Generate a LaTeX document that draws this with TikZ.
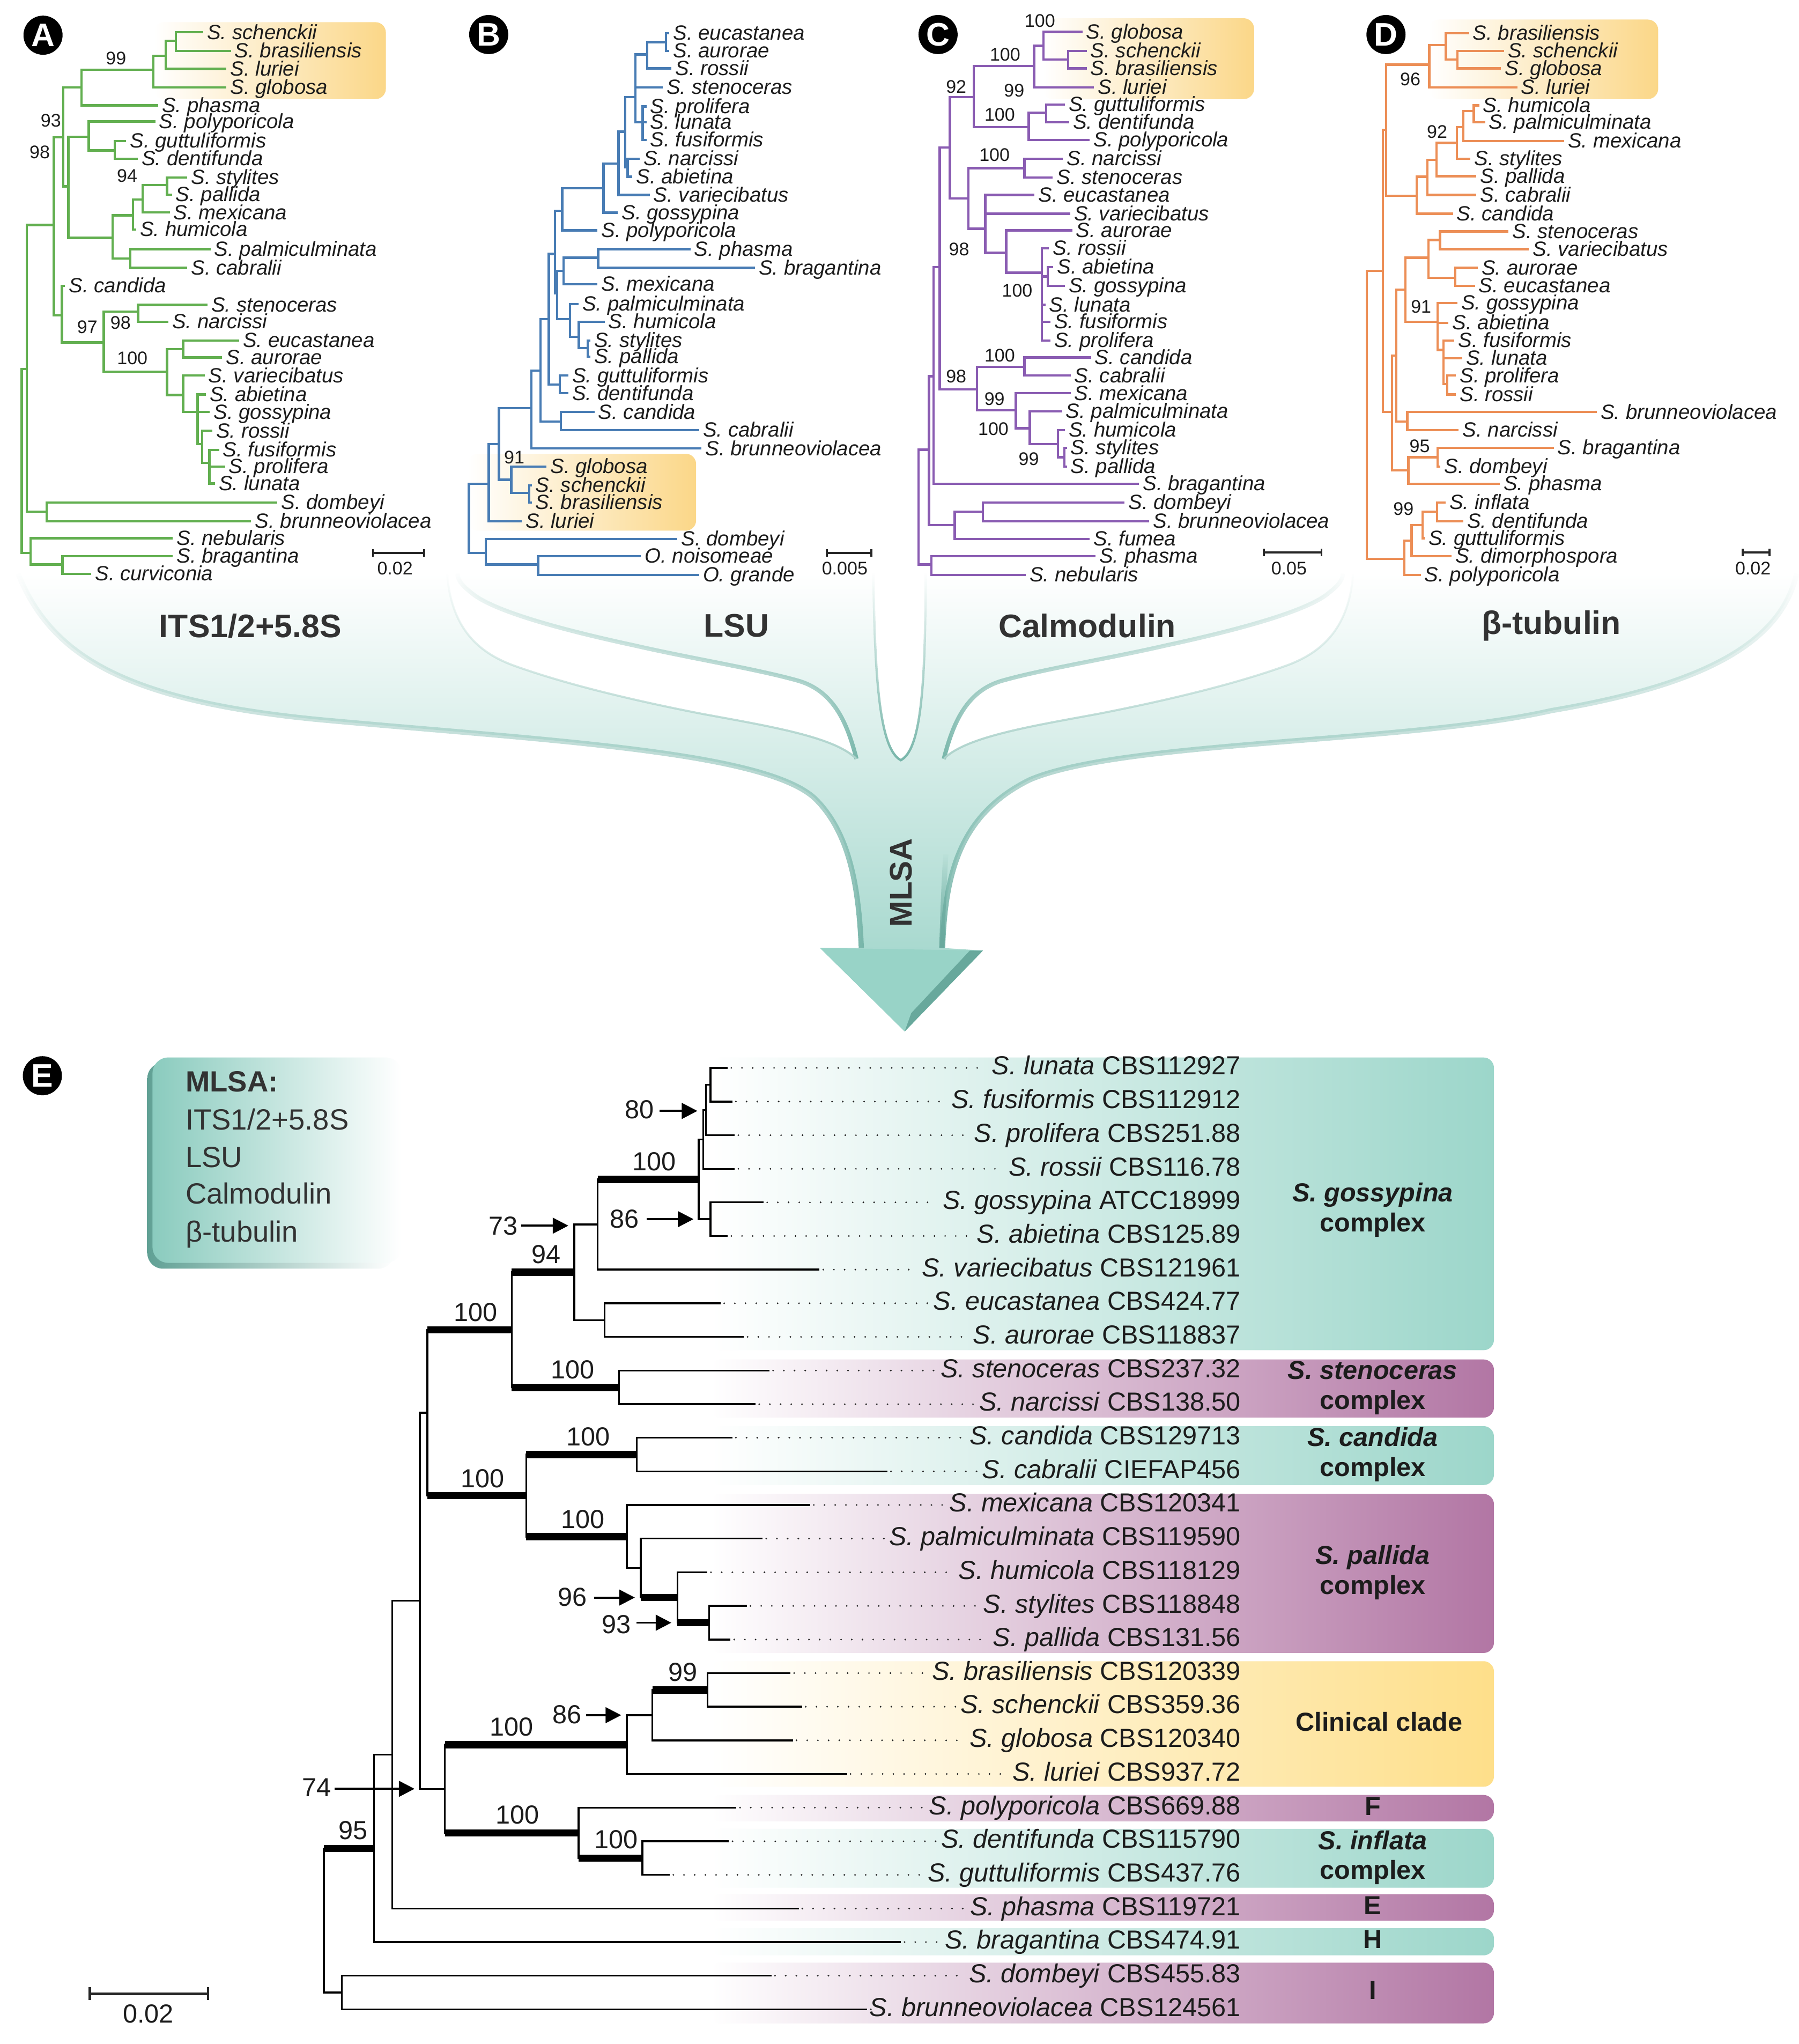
\documentclass[tikz,border=0pt]{standalone}
\usepackage{fontspec}
\setmainfont{Liberation Sans}
\usetikzlibrary{arrows.meta,fadings}
\definecolor{grA}{RGB}{98,175,80}
\definecolor{blB}{RGB}{72,124,180}
\definecolor{puC}{RGB}{138,92,178}
\definecolor{orD}{RGB}{236,142,86}
\definecolor{hiY}{RGB}{251,215,136}
\definecolor{tealR}{RGB}{156,214,202}
\definecolor{mauR}{RGB}{178,118,164}
\definecolor{yelR}{RGB}{254,223,138}
\definecolor{txt}{RGB}{28,28,28}
\definecolor{fnB}{RGB}{150,209,197}
\definecolor{fnE}{RGB}{120,182,170}
\definecolor{arC}{RGB}{152,211,199}
\definecolor{arD}{RGB}{104,168,156}
\definecolor{boxL}{RGB}{138,203,190}
\definecolor{boxS}{RGB}{96,160,148}
\definecolor{lbl}{RGB}{50,50,50}
\newcommand{\tHB}[3]{\draw (#1,#3) -- (#2,#3);}
\newcommand{\tVB}[3]{\draw (#1,#2) -- (#1,#3);}
\newcommand{\tLF}[5]{\draw (#2,#4) -- (#3,#4) node[taxon] (#1) {#5};}
\newcounter{svn}
\newcommand{\tSV}[3]{\stepcounter{svn}\node[bsv] (sv\arabic{svn}) at (#1,#2) {#3};}
\newcommand{\tSE}[3]{\stepcounter{svn}\node[esv] (sv\arabic{svn}) at (#1,#2) {#3};}
\newcommand{\tEL}[5]{\node[elab] (#1) at (955.5,#4) {#5};\draw[etl] (#2,#4) -- (#3,#4);\draw[dotln] (#3+3.5,#4) -- (#1.mid west);}
\newcommand{\tTK}[3]{\draw[thk] (#1,#3) -- (#2,#3);}
\begin{document}
\begin{tikzpicture}[x=0.5pt, y=-0.5pt,
 taxon/.style={anchor=mid west, inner xsep=1.5pt, inner ysep=0pt, text=txt, font=\fontsize{7.9}{9}\selectfont\itshape},
 bsv/.style={inner sep=0pt, text=txt, font=\fontsize{7}{8}\selectfont},
 esv/.style={inner sep=0pt, text=txt, font=\fontsize{10}{12}\selectfont},
 elab/.style={anchor=mid east, inner xsep=1.5pt, inner ysep=0pt, text=txt, font=\fontsize{10}{12}\selectfont},
 etl/.style={line width=0.7pt, line cap=rect, draw=black},
 thk/.style={line width=2.8pt, line cap=butt, draw=black},
 dotln/.style={line width=0.7pt, line cap=round, dash pattern=on 0pt off 4.1pt, draw=black!85},
 glab/.style={anchor=mid, inner sep=0pt, text=txt, font=\fontsize{10}{12}\selectfont\bfseries},
 plet/.style={circle, fill=black, text=white, minimum size=15pt, inner sep=0pt, font=\fontsize{12.5}{13}\selectfont\bfseries},
 flab/.style={inner sep=0pt, text=lbl, font=\fontsize{12.5}{14}\selectfont\bfseries},
 sbar/.style={line width=0.75pt, draw=black!85, {Bar[width=3pt]}-{Bar[width=3pt]}},
 sclab/.style={inner sep=0pt, text=txt, font=\fontsize{7}{8}\selectfont},
 sarr/.style={line width=0.8pt, draw=black, -{Triangle[length=6pt,width=6pt]}},
 hbox/.style={left color=white, right color=hiY, rounded corners=4pt},
 mlt/.style={anchor=mid west, inner sep=0pt, text=lbl, font=\fontsize{11.2}{13}\selectfont},
 gbox/.style={left color=white, rounded corners=4pt},
 rim/.style={draw=fnE, line width=1.6pt, path fading=north},
]
\useasboundingbox (0,0) rectangle (1380,1567.6);
\fill[white] (0,0) rectangle (1380,1567.6);

% ---------- funnel ----------
\shade[top color=white, bottom color=fnB] (14,440) .. controls (40,505) and (100,538) .. (246,552) .. controls (420,568) and (585,576) .. (625,612) .. controls (652,638) and (659,680) .. (661,727) -- (629,727) -- (694,791) -- (754,729) -- (723,727) .. controls (725,672) and (735,625) .. (790,598) .. controls (860,568) and (1080,570) .. (1190,545) .. controls (1290,528) and (1365,500) .. (1378,440) -- cycle;
\fill[white] (343,438) .. controls (346,480) and (365,500) .. (394.5,510.6) .. controls (440,527) and (500,540) .. (538.7,547.5) .. controls (590,557) and (640,565) .. (657,582) .. controls (650,555) and (640,530) .. (612,522) .. controls (580,513) and (530,505) .. (486.5,495) .. controls (440,485) and (380,470) .. (362,455) .. controls (353,448) and (351,444) .. (351,438) -- cycle;
\fill[white] (670,438) .. controls (671,530) and (676,575) .. (691,583) .. controls (706,575) and (710,530) .. (710,438) -- cycle;
\fill[white] (1038,438) .. controls (1035,480) and (1016,500) .. (986.5,510.6) .. controls (941,527) and (881,540) .. (842.3,547.5) .. controls (791,557) and (741,565) .. (724,582) .. controls (731,555) and (741,530) .. (769,522) .. controls (801,513) and (851,505) .. (894.5,495) .. controls (941,485) and (1001,470) .. (1019,455) .. controls (1028,448) and (1030,444) .. (1030,438) -- cycle;
% rims
\draw[rim] (657,582) .. controls (650,555) and (640,530) .. (612,522) .. controls (580,513) and (530,505) .. (486.5,495) .. controls (440,485) and (380,470) .. (362,455) .. controls (353,448) and (351,444) .. (351,440);
\draw[rim] (724,582) .. controls (731,555) and (741,530) .. (769,522) .. controls (801,513) and (851,505) .. (894.5,495) .. controls (941,485) and (1001,470) .. (1019,455) .. controls (1028,448) and (1030,444) .. (1030,440);
\draw[rim, line width=0.9pt] (670,440) .. controls (671,530) and (676,575) .. (691,583) .. controls (706,575) and (710,530) .. (710,440);
\draw[rim, line width=0.8pt, draw=fnE!60] (343,440) .. controls (346,480) and (365,500) .. (394.5,510.6) .. controls (440,527) and (500,540) .. (538.7,547.5) .. controls (590,557) and (640,565) .. (657,582);
\draw[rim, line width=0.8pt, draw=fnE!60] (1038,440) .. controls (1035,480) and (1016,500) .. (986.5,510.6) .. controls (941,527) and (881,540) .. (842.3,547.5) .. controls (791,557) and (741,565) .. (724,582);
\draw[rim, line width=2pt] (14,440) .. controls (40,505) and (100,538) .. (246,552) .. controls (420,568) and (585,576) .. (625,612) .. controls (652,638) and (659,680) .. (661,727);
\draw[rim, line width=2pt] (723,727) .. controls (725,672) and (735,625) .. (790,598) .. controls (860,568) and (1080,570) .. (1190,545) .. controls (1290,528) and (1365,500) .. (1378,440);
\draw[arD, line width=2pt, path fading=north] (722.5,727) .. controls (723.3,700) and (724,680) .. (725.5,655);
\fill[arC] (629,727) -- (694,791) -- (754,729) -- cycle;
\fill[arD] (754,729) -- (694,791) -- (699,777) -- (744,729) -- cycle;
\node[flab] (fITS) at (192,480) {ITS1/2+5.8S};
\node[flab] (fLSU) at (565,480) {LSU};
\node[flab] (fCAL) at (834,480) {Calmodulin};
\node[flab] (fBT) at (1190,480) {β-tubulin};
\node[flab, rotate=90, font=\fontsize{12}{14}\selectfont\bfseries] (fMLSA) at (691,677) {MLSA};

% ---------- highlight boxes ----------
\shade[hbox] (118,17) rectangle (296,76);
\shade[hbox] (359,348) rectangle (534,407);
\shade[hbox] (800,14) rectangle (962,76);
\shade[hbox] (1096,15) rectangle (1272,76);

% ---------- panel letters ----------
\node[plet] (pA) at (33,27) {A};
\node[plet] (pB) at (374.9,26.5) {B};
\node[plet] (pC) at (719.6,26.5) {C};
\node[plet] (pD) at (1063.2,26.5) {D};
\node[plet] (pE) at (32.5,825) {E};

% ---------- Panel A ----------
\begin{scope}[color=grA, line width=0.9pt, line cap=rect]
\tVB{16.7}{283}{424}
\tHB{16.7}{20.5}{283}
\tVB{20.5}{172.6}{392.5}
\tHB{20.5}{41.3}{172.6}
\tVB{41.3}{105.3}{241.8}
\tHB{41.3}{48.6}{105.3}
\tVB{48.6}{67}{142.9}
\tHB{48.6}{62.4}{67}
\tVB{62.4}{53.4}{80.8}
\tHB{62.4}{117.7}{53.4}
\tVB{117.7}{42.7}{67}
\tHB{117.7}{127.1}{42.7}
\tVB{127.1}{31.2}{52.8}
\tHB{127.1}{134.9}{31.2}
\tVB{134.9}{24.8}{39}
\tHB{48.6}{52.4}{142.9}
\tVB{52.4}{104.8}{182.4}
\tHB{52.4}{68}{104.8}
\tVB{68}{93.2}{115.4}
\tHB{68}{88.1}{115.4}
\tVB{88.1}{108.2}{121.8}
\tHB{52.4}{86.5}{182.4}
\tVB{86.5}{165.1}{198.3}
\tHB{86.5}{102.1}{165.1}
\tVB{102.1}{153}{176}
\tHB{102.1}{109.3}{153}
\tVB{109.3}{142}{163}
\tHB{109.3}{128.2}{142}
\tVB{128.2}{136.2}{149.2}
\tHB{86.5}{99.9}{198.3}
\tVB{99.9}{191}{205.5}
\tHB{41.3}{47.5}{241.8}
\tVB{47.5}{219.3}{262.6}
\tHB{47.5}{79.6}{262.6}
\tVB{79.6}{239}{285.1}
\tHB{79.6}{105.9}{239}
\tVB{105.9}{233.8}{246.8}
\tHB{79.6}{128.2}{285.1}
\tVB{128.2}{267.8}{303}
\tHB{128.2}{140.5}{267.8}
\tVB{140.5}{261.2}{274.2}
\tHB{128.2}{140.5}{303}
\tVB{140.5}{288}{316}
\tHB{140.5}{151.6}{316}
\tVB{151.6}{302.5}{340.5}
\tHB{151.6}{155}{340.5}
\tVB{155}{330.4}{355}
\tHB{155}{160.6}{355}
\tVB{160.6}{345}{370.8}
\tHB{20.5}{35.7}{392.5}
\tVB{35.7}{385.3}{399.7}
\tHB{16.7}{23.4}{424}
\tVB{23.4}{412.7}{433}
\tHB{23.4}{47.9}{433}
\tVB{47.9}{426.5}{440.1}
\tLF{a1}{134.9}{155}{24.8}{S. schenckii}
\tLF{a2}{134.9}{176.2}{39}{S. brasiliensis}
\tLF{a3}{127.1}{172.8}{52.8}{S. luriei}
\tLF{a4}{117.7}{172.8}{67}{S. globosa}
\tLF{a5}{62.4}{120.4}{80.8}{S. phasma}
\tLF{a6}{68}{118.2}{93.2}{S. polyporicola}
\tLF{a7}{88.1}{95.9}{108.2}{S. guttuliformis}
\tLF{a8}{88.1}{104.8}{121.8}{S. dentifunda}
\tLF{a9}{128.2}{142.7}{136.2}{S. stylites}
\tLF{a10}{128.2}{131}{149.2}{S. pallida}
\tLF{a11}{109.3}{129.3}{163}{S. mexicana}
\tLF{a12}{102.1}{103.5}{176}{S. humicola}
\tLF{a13}{99.9}{160.6}{191}{S. palmiculminata}
\tLF{a14}{99.9}{142.7}{205.5}{S. cabralii}
\tLF{a15}{47.5}{49}{219.3}{S. candida}
\tLF{a16}{105.9}{158.3}{233.8}{S. stenoceras}
\tLF{a17}{105.9}{128.2}{246.8}{S. narcissi}
\tLF{a18}{140.5}{182.5}{261.2}{S. eucastanea}
\tLF{a19}{140.5}{169.5}{274.2}{S. aurorae}
\tLF{a20}{140.5}{156.1}{288}{S. variecibatus}
\tLF{a21}{151.6}{157}{302.5}{S. abietina}
\tLF{a22}{151.6}{160}{316}{S. gossypina}
\tLF{a23}{155}{162}{330.4}{S. rossii}
\tLF{a24}{160.6}{167.2}{345}{S. fusiformis}
\tLF{a25}{160.6}{171.7}{357.9}{S. prolifera}
\tLF{a26}{160.6}{164}{370.8}{S. lunata}
\tLF{a27}{35.7}{211.9}{385.3}{S. dombeyi}
\tLF{a28}{35.7}{191.8}{399.7}{S. brunneoviolacea}
\tLF{a29}{23.4}{131.6}{412.7}{S. nebularis}
\tLF{a30}{47.9}{131.6}{426.5}{S. bragantina}
\tLF{a31}{47.9}{69.1}{440.1}{S. curviconia}
\tSV{89}{44.7}{99}
\tSV{39}{92.4}{93}
\tSV{30.5}{116.9}{98}
\tSV{97.5}{135}{94}
\tSV{67}{251}{97}
\tSV{92.5}{247.6}{98}
\tSV{101.5}{274.7}{100}
\end{scope}
\draw[sbar] (285.4,424) -- (326,424);
\node[sclab] (scA) at (303,436) {0.02};

% ---------- Panel B ----------
\begin{scope}[color=blB, line width=0.9pt, line cap=rect]
\tHB{496.4}{510.9}{32.3}
\tVB{510.9}{25.4}{39}
\tVB{496.4}{32.3}{52.5}
\tHB{487.5}{496.4}{41.8}
\tVB{493}{81.7}{107.4}
\tHB{487.5}{493}{93.8}
\tVB{487.5}{41.8}{93.8}
\tHB{479.7}{487.5}{74.5}
\tVB{481.4}{121.8}{135.6}
\tHB{479.7}{481.4}{128.4}
\tVB{479.7}{74.5}{128.4}
\tHB{474.5}{479.7}{101}
\tVB{474.5}{101}{149.5}
\tHB{462.9}{474.5}{125.5}
\tVB{462.9}{125.5}{163.1}
\tHB{431.3}{462.9}{144.3}
\tVB{431.3}{144.3}{176.6}
\tHB{425.7}{431.3}{161.6}
\tVB{458.9}{191}{205.5}
\tHB{432.4}{458.9}{197.7}
\tVB{432.4}{197.7}{217.9}
\tHB{427.3}{432.4}{207.8}
\tVB{450.7}{261.2}{273.6}
\tHB{444}{450.7}{267}
\tVB{444}{246.8}{267}
\tHB{437.3}{444}{258.3}
\tVB{437.3}{233.2}{258.3}
\tHB{427.3}{437.3}{244.7}
\tVB{427.3}{207.8}{244.7}
\tHB{425.7}{427.3}{225.1}
\tVB{425.7}{161.6}{225.1}
\tHB{421}{425.7}{194.8}
\tVB{429.5}{288}{301.6}
\tHB{421}{429.5}{294.9}
\tVB{421}{194.8}{294.9}
\tHB{414.5}{421}{244.7}
\tVB{430.2}{316}{329.9}
\tHB{414.5}{430.2}{323.2}
\tVB{414.5}{244.7}{323.2}
\tHB{407.6}{414.5}{284.3}
\tVB{407.6}{284.3}{344}
\tHB{382.7}{407.6}{313.1}
\tVB{406.1}{372.3}{385.3}
\tHB{392.2}{406.1}{378.1}
\tVB{392.2}{357.9}{378.1}
\tHB{382.7}{392.2}{368}
\tVB{382.7}{313.1}{368}
\tHB{374.9}{382.7}{340.5}
\tVB{374.9}{340.5}{399.7}
\tHB{359.7}{374.9}{370.9}
\tVB{412.8}{426.5}{441}
\tHB{372.6}{412.8}{432.9}
\tVB{372.6}{413.3}{432.9}
\tHB{359.7}{372.6}{424.2}
\tVB{359.7}{370.9}{424.2}
\tLF{b1}{510.9}{512.5}{25.4}{S. eucastanea}
\tLF{b2}{510.9}{512.5}{39}{S. aurorae}
\tLF{b3}{496.4}{514.2}{52.5}{S. rossii}
\tLF{b4}{487.5}{507.5}{67}{S. stenoceras}
\tLF{b5}{493}{495}{81.7}{S. prolifera}
\tLF{b6}{493}{495}{93.8}{S. lunata}
\tLF{b7}{493}{495}{107.4}{S. fusiformis}
\tLF{b8}{481.4}{489.7}{121.8}{S. narcissi}
\tLF{b9}{481.4}{484.1}{135.6}{S. abietina}
\tLF{b10}{474.5}{497.5}{149.5}{S. variecibatus}
\tLF{b11}{462.9}{473}{163.1}{S. gossypina}
\tLF{b12}{431.3}{457.4}{176.6}{S. polyporicola}
\tLF{b13}{458.9}{528.7}{191}{S. phasma}
\tLF{b14}{458.9}{578.2}{205.5}{S. bragantina}
\tLF{b15}{432.4}{457.4}{217.9}{S. mexicana}
\tLF{b16}{437.3}{442.9}{233.2}{S. palmiculminata}
\tLF{b17}{444}{462.9}{246.8}{S. humicola}
\tLF{b18}{450.7}{452}{261.2}{S. stylites}
\tLF{b19}{450.7}{452}{273.6}{S. pallida}
\tLF{b20}{429.5}{435.1}{288}{S. guttuliformis}
\tLF{b21}{429.5}{435.1}{301.6}{S. dentifunda}
\tLF{b22}{430.2}{455.1}{316}{S. candida}
\tLF{b23}{430.2}{535.4}{329.9}{S. cabralii}
\tLF{b24}{407.6}{537.2}{344}{S. brunneoviolacea}
\tLF{b25}{392.2}{418.3}{357.9}{S. globosa}
\tLF{b26}{406.1}{407}{372.3}{S. schenckii}
\tLF{b27}{406.1}{407}{385.3}{S. brasiliensis}
\tLF{b28}{374.9}{399.4}{399.7}{S. luriei}
\tLF{b29}{372.6}{518.7}{413.3}{S. dombeyi}
\tLF{b30}{412.8}{490.8}{426.5}{O. noisomeae}
\tLF{b31}{412.8}{535.4}{441}{O. grande}
\tSV{394.5}{350.6}{91}
\end{scope}
\draw[sbar] (633.5,424) -- (669.2,424);
\node[sclab] (scB) at (648,436) {0.005};

% ---------- Panel C ----------
\begin{scope}[color=puC, line width=0.9pt, line cap=rect]
\tVB{819.3}{39}{52.5}
\tHB{800.4}{819.3}{45.6}
\tVB{800.4}{24.5}{45.6}
\tHB{793.2}{800.4}{35.2}
\tVB{793.2}{35.2}{67}
\tHB{746.9}{793.2}{50.5}
\tVB{802.6}{80.2}{93.8}
\tHB{789.2}{802.6}{86.6}
\tVB{789.2}{86.6}{107.4}
\tHB{746.9}{789.2}{97.5}
\tVB{746.9}{50.5}{97.5}
\tHB{728.6}{746.9}{74.5}
\tVB{785.9}{121.8}{136.2}
\tHB{742.8}{785.9}{129}
\tVB{803.7}{204.9}{219.3}
\tHB{799.3}{803.7}{212.1}
\tVB{799.3}{190.5}{261.2}
\tHB{771.8}{799.3}{209.2}
\tVB{771.8}{176.6}{209.2}
\tHB{755.8}{771.8}{193.9}
\tVB{755.8}{149.5}{193.9}
\tHB{742.8}{755.8}{175.5}
\tVB{742.8}{129}{175.5}
\tHB{728.6}{742.8}{152.1}
\tVB{728.6}{74.5}{152.1}
\tHB{720.8}{728.6}{113.1}
\tVB{785.9}{274.2}{288}
\tHB{749.5}{785.9}{281.4}
\tVB{816.4}{343.4}{357.9}
\tHB{811.5}{816.4}{350.6}
\tVB{811.5}{329.9}{350.6}
\tHB{789.9}{811.5}{340.5}
\tVB{789.9}{315.4}{340.5}
\tHB{779.2}{789.9}{328.4}
\tVB{779.2}{301.6}{328.4}
\tHB{749.5}{779.2}{314.6}
\tVB{749.5}{281.4}{314.6}
\tHB{720.8}{749.5}{298.7}
\tVB{720.8}{113.1}{298.7}
\tHB{716.1}{720.8}{204.9}
\tVB{716.1}{204.9}{370.9}
\tHB{712.7}{716.1}{288.6}
\tVB{754}{385.3}{399.7}
\tHB{732.4}{754}{392.5}
\tVB{732.4}{392.5}{413.3}
\tHB{712.7}{732.4}{402.6}
\tVB{712.7}{288.6}{402.6}
\tHB{704.5}{712.7}{344.9}
\tVB{714.5}{426.5}{441}
\tHB{704.5}{714.5}{432.9}
\tVB{704.5}{344.9}{432.9}
\tLF{c1}{800.4}{829.4}{24.5}{S. globosa}
\tLF{c2}{819.3}{832.7}{39}{S. schenckii}
\tLF{c3}{819.3}{832.7}{52.5}{S. brasiliensis}
\tLF{c4}{793.2}{838.3}{67}{S. luriei}
\tLF{c5}{802.6}{816}{80.2}{S. guttuliformis}
\tLF{c6}{802.6}{819.3}{93.8}{S. dentifunda}
\tLF{c7}{789.2}{835}{107.4}{S. polyporicola}
\tLF{c8}{785.9}{814.4}{121.8}{S. narcissi}
\tLF{c9}{785.9}{806.6}{136.2}{S. stenoceras}
\tLF{c10}{755.8}{792.6}{149.5}{S. eucastanea}
\tLF{c11}{755.8}{820}{163.9}{S. variecibatus}
\tLF{c12}{771.8}{821.6}{176.6}{S. aurorae}
\tLF{c13}{799.3}{803.7}{190.5}{S. rossii}
\tLF{c14}{803.7}{807}{204.9}{S. abietina}
\tLF{c15}{803.7}{816}{219.3}{S. gossypina}
\tLF{c16}{799.3}{801}{233.8}{S. lunata}
\tLF{c17}{799.3}{804.8}{246.8}{S. fusiformis}
\tLF{c18}{799.3}{804.8}{261.2}{S. prolifera}
\tLF{c19}{785.9}{836}{274.2}{S. candida}
\tLF{c20}{785.9}{820.4}{288}{S. cabralii}
\tLF{c21}{779.2}{820.4}{301.6}{S. mexicana}
\tLF{c22}{789.9}{813.8}{315.4}{S. palmiculminata}
\tLF{c23}{811.5}{816}{329.9}{S. humicola}
\tLF{c24}{816.4}{817.5}{343.4}{S. stylites}
\tLF{c25}{816.4}{817.5}{357.9}{S. pallida}
\tLF{c26}{716.1}{872.8}{370.9}{S. bragantina}
\tLF{c27}{754}{861.7}{385.3}{S. dombeyi}
\tLF{c28}{754}{880.7}{399.7}{S. brunneoviolacea}
\tLF{c29}{732.4}{835}{413.3}{S. fumea}
\tLF{c30}{714.5}{839.4}{426.5}{S. phasma}
\tLF{c31}{714.5}{785.9}{441}{S. nebularis}
\tSV{797.7}{15.9}{100}
\tSV{771}{41.8}{100}
\tSV{733.5}{66.4}{92}
\tSV{778}{69.3}{99}
\tSV{766.9}{88}{100}
\tSV{762.9}{118.9}{100}
\tSV{735.7}{191}{98}
\tSV{780.3}{222.8}{100}
\tSV{766.9}{272.7}{100}
\tSV{733.5}{288.6}{98}
\tSV{762.9}{305.9}{99}
\tSV{762}{329}{100}
\tSV{789.2}{352.1}{99}
\end{scope}
\draw[sbar] (968.7,423.7) -- (1014.5,423.7);
\node[sclab] (scC) at (988.8,436) {0.05};

% ---------- Panel D ----------
\begin{scope}[color=orD, line width=0.9pt, line cap=rect]
\tVB{1118.1}{39}{52.5}
\tHB{1109.1}{1118.1}{45.6}
\tVB{1109.1}{25.4}{45.6}
\tHB{1096.4}{1109.1}{34.6}
\tVB{1096.4}{34.6}{67}
\tHB{1063.2}{1096.4}{49.6}
\tVB{1130.5}{80.8}{93.8}
\tHB{1122.6}{1130.5}{85.1}
\tVB{1122.6}{85.1}{108.2}
\tHB{1117.7}{1122.6}{97.5}
\tVB{1117.7}{97.5}{121.8}
\tHB{1102}{1117.7}{109.7}
\tVB{1102}{109.7}{135.1}
\tHB{1095}{1102}{122.7}
\tVB{1095}{122.7}{149.5}
\tHB{1086.7}{1095}{135.6}
\tVB{1086.7}{135.6}{163.9}
\tHB{1063.2}{1086.7}{150.1}
\tVB{1063.2}{49.6}{150.1}
\tHB{1060.9}{1063.2}{99.6}
\tVB{1104.7}{177.5}{191}
\tHB{1095.7}{1104.7}{184.1}
\tVB{1116.3}{205.5}{219.3}
\tHB{1095.7}{1116.3}{213}
\tVB{1095.7}{184.1}{213}
\tHB{1078.2}{1095.7}{197.7}
\tVB{1102.9}{232.3}{268.4}
\tHB{1102.9}{1107.4}{268.4}
\tVB{1107.4}{261.2}{294.4}
\tHB{1107.4}{1110.3}{294.4}
\tVB{1110.3}{288}{302.5}
\tHB{1078.2}{1102.9}{246.8}
\tVB{1078.2}{197.7}{246.8}
\tHB{1071}{1078.2}{222.2}
\tVB{1079.5}{316}{329.9}
\tHB{1071}{1079.5}{323.2}
\tVB{1071}{222.2}{323.2}
\tHB{1067.7}{1071}{272.7}
\tVB{1102.9}{343.4}{357.9}
\tHB{1080.4}{1102.9}{350.6}
\tVB{1080.4}{350.6}{370.9}
\tHB{1067.7}{1080.4}{360.8}
\tVB{1067.7}{272.7}{360.8}
\tHB{1060.9}{1067.7}{316}
\tVB{1060.9}{99.6}{316}
\tHB{1048.6}{1060.9}{207.8}
\tVB{1102.4}{385.3}{399.7}
\tHB{1091.2}{1102.4}{392.5}
\tVB{1091.2}{392.5}{412.7}
\tHB{1082.9}{1091.2}{402.6}
\tVB{1082.9}{402.6}{426.5}
\tHB{1077.3}{1082.9}{414.7}
\tVB{1077.3}{414.7}{441}
\tHB{1048.6}{1077.3}{428.6}
\tVB{1048.6}{207.8}{428.6}
\tLF{d1}{1109.1}{1126}{25.4}{S. brasiliensis}
\tLF{d2}{1118.1}{1152.9}{39}{S. schenckii}
\tLF{d3}{1118.1}{1150.6}{52.5}{S. globosa}
\tLF{d4}{1096.4}{1163}{67}{S. luriei}
\tLF{d5}{1130.5}{1133.8}{80.8}{S. humicola}
\tLF{d6}{1130.5}{1138.3}{93.8}{S. palmiculminata}
\tLF{d7}{1122.6}{1198.9}{108.2}{S. mexicana}
\tLF{d8}{1117.7}{1127.1}{121.8}{S. stylites}
\tLF{d9}{1102}{1131.6}{135.1}{S. pallida}
\tLF{d10}{1095}{1131.6}{149.5}{S. cabralii}
\tLF{d11}{1086.7}{1113.6}{163.9}{S. candida}
\tLF{d12}{1104.7}{1156.3}{177.5}{S. stenoceras}
\tLF{d13}{1104.7}{1172}{191}{S. variecibatus}
\tLF{d14}{1116.3}{1132.7}{205.5}{S. aurorae}
\tLF{d15}{1116.3}{1130.5}{219.3}{S. eucastanea}
\tLF{d16}{1102.9}{1117}{232.3}{S. gossypina}
\tLF{d17}{1102.9}{1110.3}{247.6}{S. abietina}
\tLF{d18}{1107.4}{1114.8}{261.2}{S. fusiformis}
\tLF{d19}{1107.4}{1120.8}{274.7}{S. lunata}
\tLF{d20}{1110.3}{1115.9}{288}{S. prolifera}
\tLF{d21}{1110.3}{1115.9}{302.5}{S. rossii}
\tLF{d22}{1079.5}{1224}{316}{S. brunneoviolacea}
\tLF{d23}{1079.5}{1118.1}{329.9}{S. narcissi}
\tLF{d24}{1102.9}{1191}{343.4}{S. bragantina}
\tLF{d25}{1102.9}{1104}{357.9}{S. dombeyi}
\tLF{d26}{1080.4}{1149.5}{370.9}{S. phasma}
\tLF{d27}{1102.4}{1108}{385.3}{S. inflata}
\tLF{d28}{1102.4}{1121.5}{399.7}{S. dentifunda}
\tLF{d29}{1091.2}{1092}{412.7}{S. guttuliformis}
\tLF{d30}{1082.9}{1112.5}{426.5}{S. dimorphospora}
\tLF{d31}{1077.3}{1089}{441}{S. polyporicola}
\tSV{1081.8}{60.6}{96}
\tSV{1102.4}{101}{92}
\tSV{1090.1}{235.2}{91}
\tSV{1089}{342}{95}
\tSV{1076.6}{390.2}{99}
\end{scope}
\draw[sbar] (1336.2,423.7) -- (1358.1,423.7);
\node[sclab] (scD) at (1344.7,436) {0.02};

% ---------- Panel E: MLSA box ----------
\shade[left color=boxS, right color=white, rounded corners=6pt] (113,815) rectangle (302,973);
\shade[left color=boxL, right color=white, rounded corners=6pt] (117,811) rectangle (308,968.5);
\node[mlt, font=\fontsize{11.2}{13}\selectfont\bfseries] (m0) at (142,832) {MLSA:};
\node[mlt] (m1) at (142,861) {ITS1/2+5.8S};
\node[mlt] (m2) at (142,890) {LSU};
\node[mlt] (m3) at (142,918) {Calmodulin};
\node[mlt] (m4) at (142,947) {β-tubulin};

% ---------- Panel E: group boxes ----------
\shade[gbox, right color=tealR] (545,811) rectangle (1146,1035.5);
\shade[gbox, right color=mauR] (545,1042.6) rectangle (1146,1087.2);
\shade[gbox, right color=tealR] (545,1093.7) rectangle (1146,1138.9);
\shade[gbox, right color=mauR] (545,1145.7) rectangle (1146,1267.7);
\shade[gbox, right color=yelR] (545,1274) rectangle (1146,1370.3);
\shade[gbox, right color=mauR] (545,1376.6) rectangle (1146,1396.8);
\shade[gbox, right color=tealR] (545,1402.6) rectangle (1146,1447.7);
\shade[gbox, right color=mauR] (545,1452.7) rectangle (1146,1473);
\shade[gbox, right color=tealR] (545,1478.7) rectangle (1146,1499.6);
\shade[gbox, right color=mauR] (545,1505.2) rectangle (1146,1551.8);
\node[glab] (g1) at (1053,916.5) {\textit{S. gossypina}};
\node[glab] (g1b) at (1053,939.5) {complex};
\node[glab] (g2) at (1053,1052.5) {\textit{S. stenoceras}};
\node[glab] (g2b) at (1053,1075.5) {complex};
\node[glab] (g3) at (1053,1104) {\textit{S. candida}};
\node[glab] (g3b) at (1053,1127) {complex};
\node[glab] (g4) at (1053,1194.5) {\textit{S. pallida}};
\node[glab] (g4b) at (1053,1217.5) {complex};
\node[glab] (g5) at (1058,1322.4) {Clinical clade};
\node[glab] (g6) at (1053,1386.7) {F};
\node[glab] (g7) at (1053,1413.2) {\textit{S. inflata}};
\node[glab] (g7b) at (1053,1435.8) {complex};
\node[glab] (g8) at (1053,1462.8) {E};
\node[glab] (g9) at (1053,1488.8) {H};
\node[glab] (g10) at (1053,1527.9) {I};

% ---------- Panel E: tree ----------
\begin{scope}[etl]
\tVB{545}{819}{844.8}
\tHB{541.5}{545}{831.9}
\tVB{541.5}{831.9}{870.6}
\tHB{539.5}{541.5}{851.2}
\tVB{539.5}{851.2}{896.4}
\tHB{536}{539.5}{873.8}
\tVB{536}{873.8}{935}
\tHB{536}{545}{935}
\tVB{545}{922.1}{947.9}
\tVB{458.5}{904.4}{973.7}
\tHB{440.6}{458.5}{939}
\tVB{463.8}{999.5}{1025.3}
\tHB{440.6}{463.8}{1012.4}
\tVB{440.6}{939}{1012.4}
\tVB{475}{1051.1}{1076.9}
\tVB{392.5}{975.7}{1064}
\tVB{488.4}{1102.6}{1128.4}
\tVB{544.1}{1231.6}{1257.4}
\tVB{519.6}{1205.8}{1244.5}
\tVB{491.5}{1180}{1225.2}
\tHB{480.8}{491.5}{1202.6}
\tVB{480.8}{1154.2}{1202.6}
\tVB{403.6}{1115.5}{1178.4}
\tVB{327.8}{1019.9}{1147}
\tHB{322}{327.8}{1083.5}
\tVB{542.8}{1283.1}{1308.9}
\tVB{500.4}{1296}{1334.7}
\tHB{480.8}{500.4}{1315.4}
\tVB{480.8}{1315.4}{1360.5}
\tVB{492.8}{1412.1}{1437.9}
\tVB{443.8}{1386.3}{1425}
\tVB{341.2}{1338}{1405.7}
\tHB{322}{341.2}{1371.9}
\tVB{322}{1083.5}{1371.9}
\tHB{301}{322}{1227.7}
\tVB{301}{1227.7}{1463.7}
\tHB{286.8}{301}{1345.7}
\tVB{286.8}{1345.7}{1489.4}
\tVB{262.2}{1515.2}{1541}
\tHB{248.4}{262.2}{1528.1}
\tVB{248.4}{1417.6}{1528.1}
\tTK{458.5}{536}{904.4}
\tTK{392.5}{440.6}{975.7}
\tTK{392.5}{475}{1064}
\tTK{327.8}{392.5}{1019.9}
\tTK{403.6}{488.4}{1115.5}
\tTK{519.6}{544.1}{1244.5}
\tTK{491.5}{519.6}{1225.2}
\tTK{403.6}{480.8}{1178.4}
\tTK{327.8}{403.6}{1147}
\tTK{500.4}{542.8}{1296}
\tTK{341.2}{480.8}{1338}
\tTK{443.8}{492.8}{1425}
\tTK{341.2}{443.8}{1405.7}
\tTK{248.4}{286.8}{1417.6}
\tEL{e0}{545}{557.5}{819.0}{\textit{S. lunata} CBS112927}
\tEL{e1}{545}{561}{844.8}{\textit{S. fusiformis} CBS112912}
\tEL{e2}{541.5}{562.9}{870.6}{\textit{S. prolifera} CBS251.88}
\tEL{e3}{539.5}{562.9}{896.4}{\textit{S. rossii} CBS116.78}
\tEL{e4}{545}{585}{922.1}{\textit{S. gossypina} ATCC18999}
\tEL{e5}{545}{557.5}{947.9}{\textit{S. abietina} CBS125.89}
\tEL{e6}{458.5}{628}{973.7}{\textit{S. variecibatus} CBS121961}
\tEL{e7}{463.8}{552}{999.5}{\textit{S. eucastanea} CBS424.77}
\tEL{e8}{463.8}{570}{1025.3}{\textit{S. aurorae} CBS118837}
\tEL{e9}{475}{589.6}{1051.1}{\textit{S. stenoceras} CBS237.32}
\tEL{e10}{475}{578.9}{1076.9}{\textit{S. narcissi} CBS138.50}
\tEL{e11}{488.4}{561}{1102.6}{\textit{S. candida} CBS129713}
\tEL{e12}{488.4}{680}{1128.4}{\textit{S. cabralii} CIEFAP456}
\tEL{e13}{480.8}{620.8}{1154.2}{\textit{S. mexicana} CBS120341}
\tEL{e14}{491.5}{584.3}{1180.0}{\textit{S. palmiculminata} CBS119590}
\tEL{e15}{519.6}{541.9}{1205.8}{\textit{S. humicola} CBS118129}
\tEL{e16}{544.1}{572.2}{1231.6}{\textit{S. stylites} CBS118848}
\tEL{e17}{544.1}{559.7}{1257.4}{\textit{S. pallida} CBS131.56}
\tEL{e18}{542.8}{605.7}{1283.1}{\textit{S. brasiliensis} CBS120339}
\tEL{e19}{542.8}{614.6}{1308.9}{\textit{S. schenckii} CBS359.36}
\tEL{e20}{500.4}{607.5}{1334.7}{\textit{S. globosa} CBS120340}
\tEL{e21}{480.8}{649}{1360.5}{\textit{S. luriei} CBS937.72}
\tEL{e22}{443.8}{564.2}{1386.3}{\textit{S. polyporicola} CBS669.88}
\tEL{e23}{492.8}{558.4}{1412.1}{\textit{S. dentifunda} CBS115790}
\tEL{e24}{492.8}{513}{1437.9}{\textit{S. guttuliformis} CBS437.76}
\tEL{e25}{301}{612}{1463.7}{\textit{S. phasma} CBS119721}
\tEL{e26}{286.8}{690.4}{1489.4}{\textit{S. bragantina} CBS474.91}
\tEL{e27}{262.2}{591}{1515.2}{\textit{S. dombeyi} CBS455.83}
\tEL{e28}{262.2}{664.5}{1541.0}{\textit{S. brunneoviolacea} CBS124561}
\end{scope}
\tSE{501.7}{891}{100}
\tSE{386}{940}{73}
\tSE{490.6}{851}{80}
\tSE{479}{935}{86}
\tSE{419}{962}{94}
\tSE{364.8}{1006.5}{100}
\tSE{439.3}{1050.5}{100}
\tSE{451.3}{1102}{100}
\tSE{370.2}{1134}{100}
\tSE{447.3}{1165}{100}
\tSE{439.3}{1225}{96}
\tSE{472.8}{1246}{93}
\tSE{524}{1282.5}{99}
\tSE{434.9}{1315}{86}
\tSE{392.5}{1324.5}{100}
\tSE{243}{1371}{74}
\tSE{397}{1391.7}{100}
\tSE{472.8}{1410.6}{100}
\tSE{270.7}{1403.8}{95}
\draw[sarr] (506,852) -- (535,852);
\draw[sarr] (400,940) -- (436,940);
\draw[sarr] (496,935) -- (532,935);
\draw[sarr] (455.8,1225.2) -- (487,1225.2);
\draw[sarr] (488.4,1244.5) -- (515,1244.5);
\draw[sarr] (449.6,1315.4) -- (476.5,1315.4);
\draw[sarr] (256.5,1371.9) -- (318,1371.9);
\draw[line width=1pt, draw=black!85, {Bar[width=5pt]}-{Bar[width=5pt]}] (67.8,1529) -- (160.6,1529);
\node[esv] (scE) at (113.7,1544.5) {0.02};
\end{tikzpicture}
\end{document}
